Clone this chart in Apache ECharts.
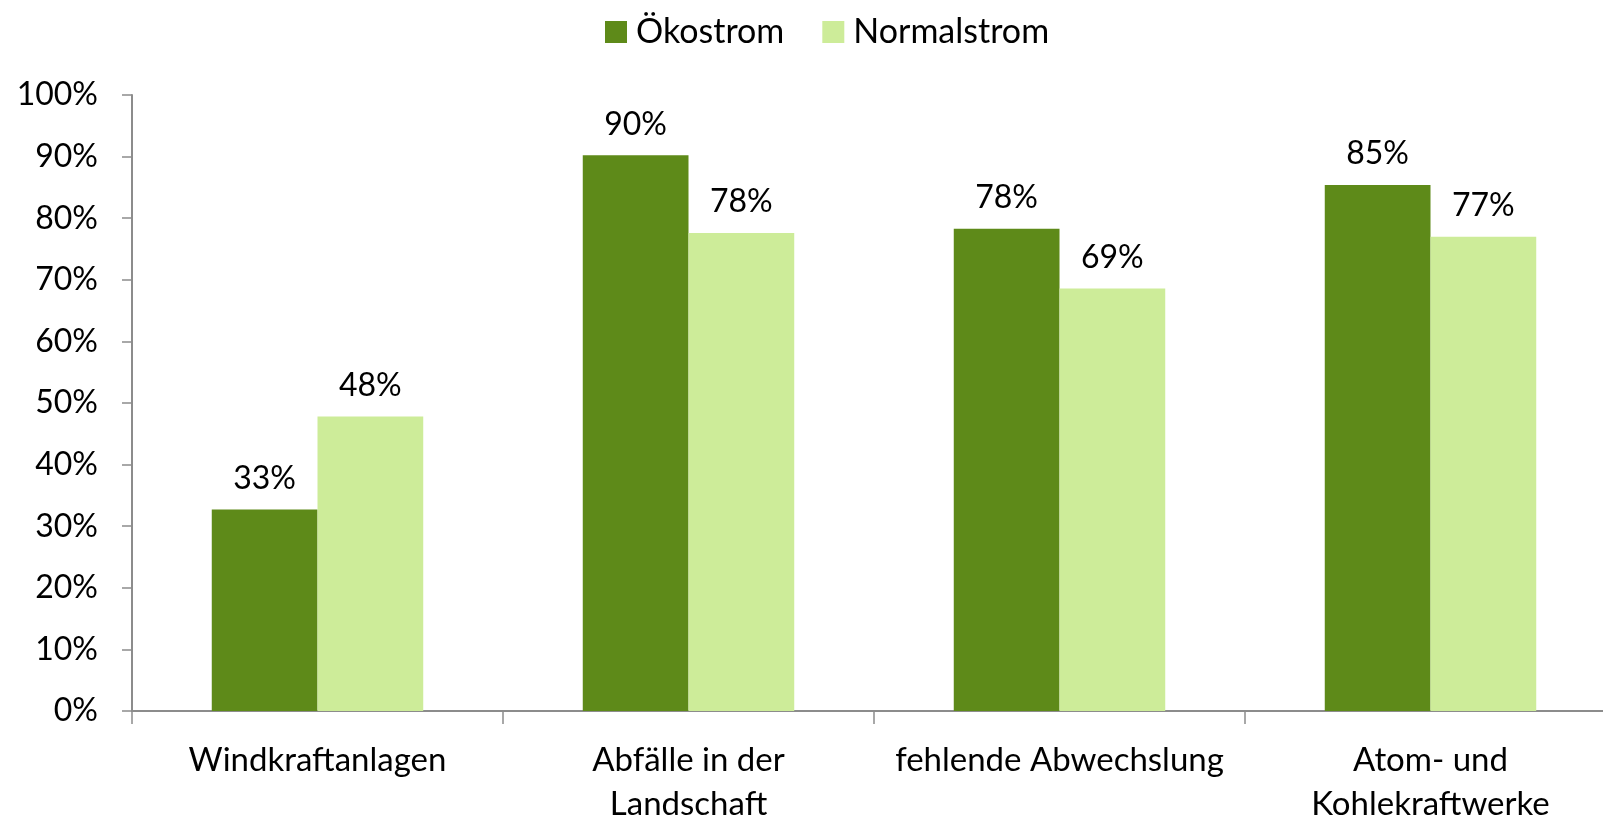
<!DOCTYPE html>
<html>
<head>
<meta charset="utf-8">
<script src="https://cdn.jsdelivr.net/npm/echarts@6/dist/echarts.min.js"></script>
<style>
  html, body { margin: 0; padding: 0; background: #fff; }
  #chart { width: 1603px; height: 821px; }
</style>
</head>
<body>
<div id="chart"></div>
<script>
  // Kategorien und Werte (in %)
  const categories = ['Windkraftanlagen', 'Abfälle in der\nLandschaft', 'fehlende Abwechslung', 'Atom- und\nKohlekraftwerke'];
  const oekostrom = [32.7, 90.2, 78.3, 85.4];
  const normalstrom = [47.8, 77.6, 68.6, 77.0];
  const seriesNames = ['Ökostrom', 'Normalstrom'];

  const font = 'Lato, "Open Sans", sans-serif';
  const axisGray = '#8c8c8c';

  let myChart = echarts.init(document.getElementById('chart'));

  let option = {
    animation: false,
    textStyle: { fontFamily: font, color: '#000' },
    legend: {
      data: seriesNames,
      top: 10,
      left: 600,
      itemWidth: 22,
      itemHeight: 22,
      itemGap: 38,
      icon: 'rect',
      textStyle: { fontSize: 34, color: '#000', fontFamily: font, padding: [0, 0, 0, 4] }
    },
    grid: {
      left: 132,
      top: 95,
      right: -13,
      bottom: 110,
      outerBoundsMode: 'none'
    },
    xAxis: {
      type: 'category',
      data: categories,
      axisLine: { lineStyle: { color: axisGray, width: 2 } },
      axisTick: { show: true, length: 13, lineStyle: { color: axisGray, width: 1.5 } },
      axisLabel: {
        fontSize: 33,
        color: '#000',
        fontFamily: font,
        margin: 27,
        lineHeight: 44,
        interval: 0
      }
    },
    yAxis: {
      type: 'value',
      min: 0,
      max: 100,
      interval: 10,
      splitLine: { show: false },
      axisLine: { show: true, lineStyle: { color: axisGray, width: 2 } },
      axisTick: { show: true, length: 10, lineStyle: { color: axisGray, width: 1.5 } },
      axisLabel: {
        fontSize: 32,
        color: '#000',
        fontFamily: font,
        margin: 34,
        formatter: '{value}%'
      }
    },
    series: [
      {
        name: seriesNames[0],
        type: 'bar',
        data: oekostrom,
        barGap: '0%',
        barCategoryGap: '43%',
        itemStyle: { color: '#5e8a19' },
        label: {
          show: true,
          position: 'top',
          distance: 15,
          fontSize: 32,
          color: '#000',
          fontFamily: font,
          formatter: p => Math.round(p.value) + '%'
        }
      },
      {
        name: seriesNames[1],
        type: 'bar',
        data: normalstrom,
        itemStyle: { color: '#cdec99' },
        label: {
          show: true,
          position: 'top',
          distance: 15,
          fontSize: 32,
          color: '#000',
          fontFamily: font,
          formatter: p => Math.round(p.value) + '%'
        }
      }
    ]
  };
  myChart.setOption(option);
</script>
</body>
</html>
